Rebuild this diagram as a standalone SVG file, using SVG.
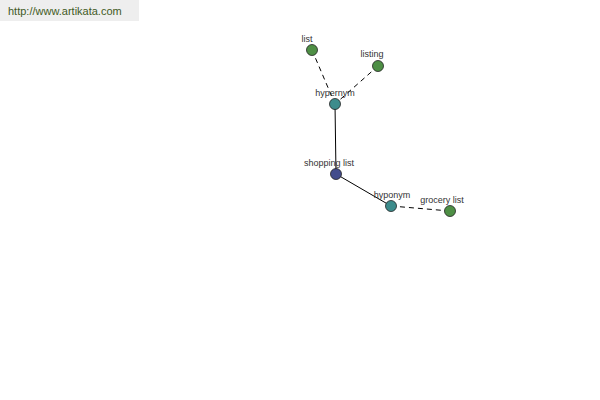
<svg xmlns="http://www.w3.org/2000/svg" width="600" height="400" viewBox="0 0 600 400">
<style>
.lbl{font-family:"Liberation Sans",Arial,sans-serif;font-size:9px;fill:#333;text-anchor:middle}
.n{stroke:#222;stroke-width:0.8}
.g{fill:#4e8f45}.t{fill:#3d8c8c}.b{fill:#424c8c}
.e{stroke:#000;stroke-width:1;fill:none}
.d{stroke-dasharray:5,4}
</style>
<rect x="0" y="0" width="139" height="21" fill="#eeeeee"/>
<text x="8" y="15" font-family="Liberation Sans,Arial,sans-serif" font-size="11" fill="#3f5a1e">http://www.artikata.com</text>
<g id="connectors">
<line class="e d" x1="312" y1="50" x2="335" y2="104"/>
<line class="e d" x1="378" y1="66" x2="335" y2="104"/>
<line class="e" x1="335" y1="104" x2="336" y2="174"/>
<line class="e" x1="336" y1="174" x2="391" y2="206"/>
<line class="e d" x1="391" y1="206" x2="450" y2="211"/>
</g>
<g id="node-list"><circle class="n g" cx="312" cy="50" r="5.5"/><text class="lbl" x="307" y="42">list</text></g>
<g id="node-listing"><circle class="n g" cx="378" cy="66" r="5.5"/><text class="lbl" x="372" y="57">listing</text></g>
<g id="node-hypernym"><circle class="n t" cx="335" cy="104" r="5.5"/><text class="lbl" x="335" y="96">hypernym</text></g>
<g id="node-shopping-list"><circle class="n b" cx="336" cy="174" r="5.5"/><text class="lbl" x="329" y="166">shopping list</text></g>
<g id="node-hyponym"><circle class="n t" cx="391" cy="206" r="5.5"/><text class="lbl" x="392" y="198">hyponym</text></g>
<g id="node-grocery-list"><circle class="n g" cx="450" cy="211" r="5.5"/><text class="lbl" x="442" y="203">grocery list</text></g>
</svg>
